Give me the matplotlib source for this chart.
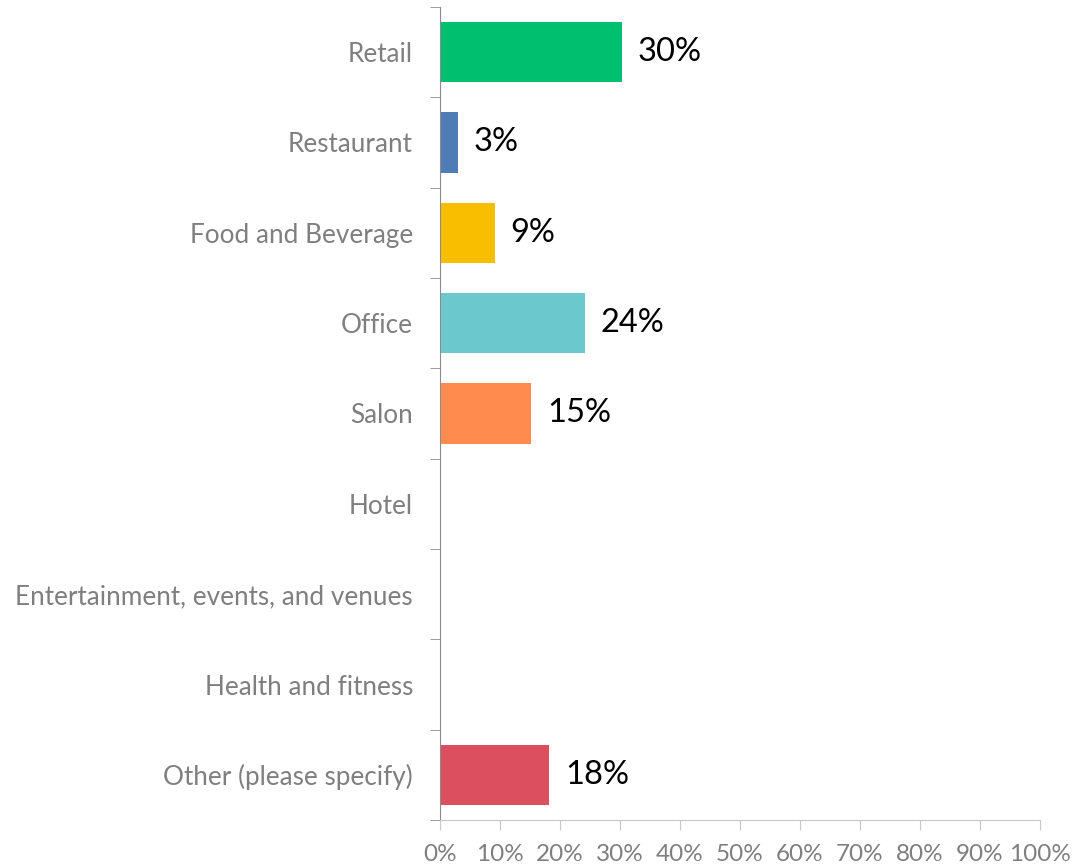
import matplotlib
matplotlib.use("Agg")
import matplotlib.pyplot as plt
from matplotlib.ticker import PercentFormatter

plt.rcParams['font.family'] = ['Lato', 'DejaVu Sans']

categories = ["Retail", "Restaurant", "Food and Beverage", "Office", "Salon", "Hotel",
              "Entertainment, events, and venues", "Health and fitness",
              "Other (please specify)"]
values = [30.3, 3.0, 9.1, 24.2, 15.2, 0, 0, 0, 18.2]
colors = ["#00bf6f", "#507cb6", "#f9be00", "#6bc8cd", "#ff8b4f", "#7f6ac5",
          "#a0a0a0", "#ffa6b5", "#dc4f5f"]

fig = plt.figure(figsize=(10.91, 8.65), dpi=100)
ax = fig.add_axes([0.4033, 0.052, 0.55, 0.94])

pos = list(range(len(categories)))
ax.barh(pos, values, height=0.67, color=colors)
for p, v in zip(pos, values):
    if v > 0:
        ax.text(v + 2.6, p, f"{round(v)}%", va="center", ha="left",
                fontsize=23.5, color="black")

ax.set_ylim(len(categories) - 0.5, -0.5)
ax.set_xlim(0, 100)
ax.set_yticks(pos)
ax.set_yticklabels(categories)
ax.set_yticks([p - 0.5 for p in pos] + [len(categories) - 0.5], minor=True)
ax.tick_params(axis="y", which="major", length=0, pad=19.5, labelsize=18.8, labelcolor="#7f7f7f")
ax.tick_params(axis="y", which="minor", length=7, color="#8c8c8c")
ax.set_xticks(range(0, 101, 10))
ax.xaxis.set_major_formatter(PercentFormatter(decimals=0))
ax.tick_params(axis="x", length=7, color="#c8c8c8", labelsize=17.5, labelcolor="#7f7f7f", pad=10)

for s in ["top", "right"]:
    ax.spines[s].set_visible(False)
ax.spines["left"].set_color("#8c8c8c")
ax.spines["bottom"].set_color("#c8c8c8")

fig.savefig("out.png", dpi=100)
